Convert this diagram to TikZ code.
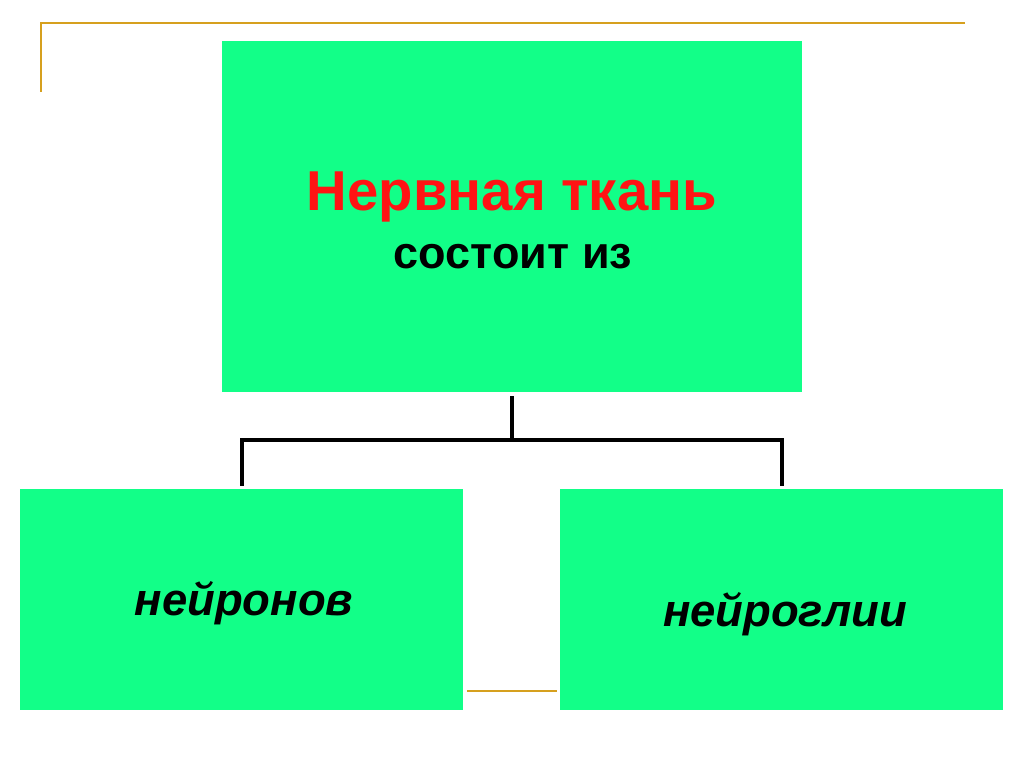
\documentclass[tikz,border=0pt]{standalone}
\usepackage{fontspec}
\setmainfont{Liberation Sans}
\usepackage{tikz}
\usetikzlibrary{positioning}
\definecolor{boxgreen}{RGB}{18,255,136}
\definecolor{framegold}{RGB}{214,160,30}
\definecolor{titlered}{RGB}{255,20,20}

\begin{document}
\begin{tikzpicture}[x=0.025cm, y=-0.025cm,
  box/.style={fill=boxgreen, draw=none, inner sep=0pt},
  link/.style={line width=0.1cm, black},
  big/.style={font=\fontsize{40pt}{46pt}\selectfont\bfseries, inner sep=0pt, anchor=base},
  mid/.style={font=\fontsize{32pt}{38pt}\selectfont\bfseries, inner sep=0pt, anchor=base},
  leaf/.style={font=\fontsize{32.3pt}{38pt}\selectfont\bfseries\itshape, inner sep=0pt, anchor=base}]
\useasboundingbox[fill=white] (0,0) rectangle (1024,767);
\draw[framegold, line width=0.065cm] (41,92) -- (41,23) -- (965,23);
\draw[framegold, line width=0.065cm] (467,691) -- (557,691);
\node[box, minimum width=14.5cm, minimum height=8.775cm] (tissue) at (512,216.5) {};
\node[box, minimum width=11.075cm, minimum height=5.525cm] (neurons) at (241.5,599.5) {};
\node[box, minimum width=11.075cm, minimum height=5.525cm] (glia) at (781.5,599.5) {};
\node[big, text=titlered] (title) at (512,211) {Нервная ткань};
\node[mid] (consists) at (513,269) {состоит из};
\node[leaf] (neuronstext) at (244,615) {нейронов};
\node[leaf] (gliatext) at (785,626) {нейроглии};
\coordinate (fork) at (512,440);
\draw[link, shorten <=4*0.025cm] (tissue.south) -- (fork);
\draw[link, shorten <=3*0.025cm, shorten >=3*0.025cm] (neurons.north) |- (fork) -| (glia.north);
\end{tikzpicture}
\end{document}
